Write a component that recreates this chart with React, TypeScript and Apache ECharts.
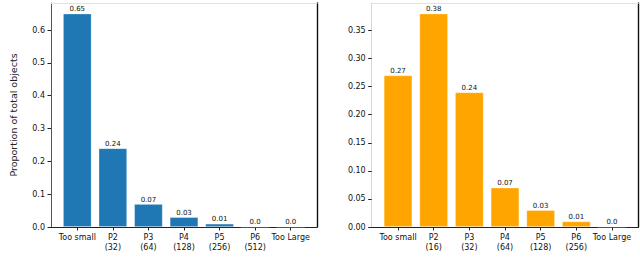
import React, { useEffect, useRef } from "react";
import * as echarts from "echarts";

const categoriesLeft = ["Too small", "P2\n(32)", "P3\n(64)", "P4\n(128)", "P5\n(256)", "P6\n(512)", "Too Large"];
const valuesLeft = [0.65, 0.24, 0.07, 0.03, 0.01, 0.0, 0.0];
const ticksLeft = [0, 0.1, 0.2, 0.3, 0.4, 0.5, 0.6];

const categoriesRight = ["Too small", "P2\n(16)", "P3\n(32)", "P4\n(64)", "P5\n(128)", "P6\n(256)", "Too Large"];
const valuesRight = [0.27, 0.38, 0.24, 0.07, 0.03, 0.01, 0.0];
const ticksRight = [0, 0.05, 0.1, 0.15, 0.2, 0.25, 0.3, 0.35];

const yAxisTitle = "Proportion of total objects";

const FONT = "DejaVu Sans";

function frameAxes(gridIndex: number, leftColor: string) {
  const base = {
    gridIndex,
    type: "value" as const,
    min: 0,
    max: 1,
    axisTick: { show: false },
    axisLabel: { show: false },
    splitLine: { show: false },
    silent: true,
  };
  return {
    x: [
      { ...base, position: "bottom", axisLine: { show: true, onZero: false, lineStyle: { color: "#222", width: 1.2 } } },
      { ...base, position: "top", axisLine: { show: true, onZero: false, lineStyle: { color: "#e2e2e2", width: 1 } } },
    ],
    y: [
      { ...base, position: "left", axisLine: { show: true, onZero: false, lineStyle: { color: leftColor, width: 1 } } },
      { ...base, position: "right", axisLine: { show: true, onZero: false, lineStyle: { color: "#111", width: 1.4 } } },
    ],
  };
}

export default function App() {
  const ref = useRef<HTMLDivElement>(null);
  useEffect(() => {
    if (!ref.current) return;
    const chart = echarts.init(ref.current, undefined, { renderer: "svg" });

    const frameL = frameAxes(0, "#555");
    const frameR = frameAxes(2, "#d8d8d8");

    const top = 3;
    const height = 224;
    const inset = 8.5;
    const leftL = 51;
    const widthL = 266;
    const leftR = 371.7;
    const widthR = 266.6;

    const catAxis = (gridIndex: number, data: string[]) => ({
      gridIndex,
      type: "category" as const,
      data,
      position: "bottom",
      axisLine: { show: false },
      axisTick: { show: true, alignWithLabel: true, length: 3.5, lineStyle: { color: "#222" } },
      axisLabel: { fontFamily: FONT, fontSize: 8, color: "#111", margin: 5, lineHeight: 10, interval: 0 },
      splitLine: { show: false },
    });

    const valAxis = (gridIndex: number, max: number, ticks: number[], digits: number, withName: boolean) => ({
      gridIndex,
      type: "value" as const,
      min: 0,
      max,
      offset: inset,
      axisLine: { show: false },
      axisTick: { show: true, length: 3.5, customValues: ticks, lineStyle: { color: "#222" } },
      axisLabel: {
        fontFamily: FONT,
        fontSize: 8,
        color: "#111",
        margin: 6,
        customValues: ticks,
        formatter: (v: number) => v.toFixed(digits),
      },
      splitLine: { show: false },
      name: withName ? yAxisTitle : "",
      nameLocation: "middle",
      nameGap: 33,
      nameTextStyle: { fontFamily: FONT, fontSize: 9.5, color: "#222" },
    });

    const barLabel = {
      show: true,
      position: "top",
      distance: 1,
      fontFamily: FONT,
      fontSize: 7,
      color: "#111",
      formatter: (p: any) => (p.value === 0 ? "0.0" : String(p.value)),
    };

    chart.setOption({
      animation: false,
      grid: [
        { left: leftL, top, width: widthL, height },
        { left: leftL + inset, top, width: widthL - 2 * inset, height },
        { left: leftR, top, width: widthR, height },
        { left: leftR + inset, top, width: widthR - 2 * inset, height },
      ],
      xAxis: [
        ...frameL.x,
        catAxis(1, categoriesLeft),
        ...frameR.x,
        catAxis(3, categoriesRight),
      ],
      yAxis: [
        ...frameL.y,
        valAxis(1, Math.max(...valuesLeft) * 1.05, ticksLeft, 1, true),
        ...frameR.y,
        valAxis(3, Math.max(...valuesRight) * 1.05, ticksRight, 2, false),
      ],
      series: [
        {
          type: "bar",
          xAxisIndex: 2,
          yAxisIndex: 2,
          data: valuesLeft,
          barWidth: "80%",
          itemStyle: { color: "#1f77b4", borderColor: "rgba(255,255,255,0.3)", borderWidth: 0.8 },
          label: barLabel,
        },
        {
          type: "bar",
          xAxisIndex: 5,
          yAxisIndex: 5,
          data: valuesRight,
          barWidth: "80%",
          itemStyle: { color: "#ffa500", borderColor: "rgba(255,255,255,0.3)", borderWidth: 0.8 },
          label: barLabel,
        },
      ],
    });
    return () => chart.dispose();
  }, []);
  return (
    <div
      ref={ref}
      style={{ position: "fixed", left: 0, top: 0, width: 640, height: 278, background: "#fff" }}
    />
  );
}
